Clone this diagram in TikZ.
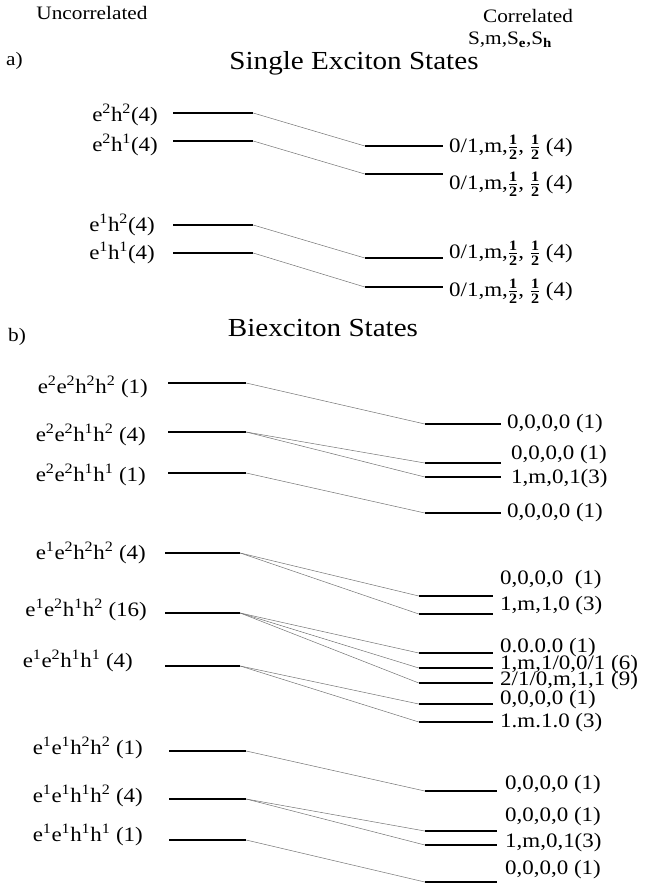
\documentclass[tikz,border=0pt]{standalone}
\usepackage{amsmath}
\usepackage{fontspec}
\setmainfont[FakeStretch=1.12]{Liberation Serif}
\newcommand{\sps}[1]{\textsuperscript{#1}}
\newcommand{\hlf}{$\frac{\text{\bfseries 1}}{\text{\bfseries 2}}$}

\begin{document}
\begin{tikzpicture}[x=1pt,y=-1pt,
    lvl/.style={fill=black,inner sep=0pt,minimum height=1.5pt},
    lnk/.style={draw=black!55,line width=0.5pt},
    lab/.style={font=\fontsize{20.5}{21}\selectfont,inner sep=0pt},
    head/.style={font=\fontsize{19}{19}\selectfont,inner sep=0pt},
    ttl/.style={font=\fontsize{26}{26}\selectfont,inner sep=0pt}]
    \useasboundingbox (0,0) rectangle (650,888);

    \node[head] (unc) at (92,13) {Uncorrelated};
    \node[head] (cor) at (528,16) {Correlated};
    \node[head] (qn) at (510,40) {S,m,S\textsubscript{\textbf{e}},S\textsubscript{\textbf{h}}};
    \node[head,anchor=west] (pa) at (6,61) {a)};
    \node[ttl] (tsx) at (354,63) {Single Exciton States};
    \node[head,anchor=west] (pb) at (8,337) {b)};
    \node[ttl] (tbx) at (323,328) {Biexciton States};

    \node[lvl,minimum width=80pt] (ua1) at (213,113) {};
    \node[lvl,minimum width=80pt] (ua2) at (213,141) {};
    \node[lvl,minimum width=80pt] (ua3) at (213,225) {};
    \node[lvl,minimum width=80pt] (ua4) at (213,253) {};
    \node[lvl,minimum width=78pt] (ca1) at (404,146) {};
    \node[lvl,minimum width=78pt] (ca2) at (404,174) {};
    \node[lvl,minimum width=78pt] (ca3) at (404,258) {};
    \node[lvl,minimum width=78pt] (ca4) at (404,287) {};

    \node[lab,anchor=east] (la1) at (158,115) {e\sps{2}h\sps{2}(4)};
    \node[lab,anchor=east] (la2) at (158,145) {e\sps{2}h\sps{1}(4)};
    \node[lab,anchor=east] (la3) at (155,225) {e\sps{1}h\sps{2}(4)};
    \node[lab,anchor=east] (la4) at (155,253) {e\sps{1}h\sps{1}(4)};
    \node[lab,anchor=west] (ra1) at (449,147) {0/1,m,\hlf, \hlf{} (4)};
    \node[lab,anchor=west] (ra2) at (449,184) {0/1,m,\hlf, \hlf{} (4)};
    \node[lab,anchor=west] (ra3) at (449,253) {0/1,m,\hlf, \hlf{} (4)};
    \node[lab,anchor=west] (ra4) at (449,291) {0/1,m,\hlf, \hlf{} (4)};

    \node[lvl,minimum width=78pt] (ub1) at (207,383) {};
    \node[lvl,minimum width=78pt] (ub2) at (207,432) {};
    \node[lvl,minimum width=78pt] (ub3) at (207,473) {};
    \node[lvl,minimum width=75pt] (ub4) at (202.5,553) {};
    \node[lvl,minimum width=75pt] (ub5) at (202.5,613) {};
    \node[lvl,minimum width=75pt] (ub6) at (202.5,666) {};
    \node[lvl,minimum width=77pt] (ub7) at (207.5,751) {};
    \node[lvl,minimum width=77pt] (ub8) at (207.5,799) {};
    \node[lvl,minimum width=77pt] (ub9) at (207.5,840) {};

    \node[lvl,minimum width=76pt] (cb1) at (463,424) {};
    \node[lvl,minimum width=76pt] (cb2) at (463,463) {};
    \node[lvl,minimum width=76pt] (cb3) at (463,477) {};
    \node[lvl,minimum width=76pt] (cb4) at (463,513) {};
    \node[lvl,minimum width=74pt] (cb5) at (456,596) {};
    \node[lvl,minimum width=74pt] (cb6) at (456,614) {};
    \node[lvl,minimum width=74pt] (cb7) at (456,653) {};
    \node[lvl,minimum width=74pt] (cb8) at (456,668) {};
    \node[lvl,minimum width=74pt] (cb9) at (456,683) {};
    \node[lvl,minimum width=74pt] (cb10) at (456,704) {};
    \node[lvl,minimum width=74pt] (cb11) at (456,722) {};
    \node[lvl,minimum width=72pt] (cb12) at (461,791) {};
    \node[lvl,minimum width=72pt] (cb13) at (461,831) {};
    \node[lvl,minimum width=72pt] (cb14) at (461,845) {};
    \node[lvl,minimum width=72pt] (cb15) at (461,882) {};

    \node[lab,anchor=east] (lb1) at (148,387) {e\sps{2}e\sps{2}h\sps{2}h\sps{2} (1)};
    \node[lab,anchor=east] (lb2) at (146,435) {e\sps{2}e\sps{2}h\sps{1}h\sps{2} (4)};
    \node[lab,anchor=east] (lb3) at (146,475) {e\sps{2}e\sps{2}h\sps{1}h\sps{1} (1)};
    \node[lab,anchor=east] (lb4) at (146,553) {e\sps{1}e\sps{2}h\sps{2}h\sps{2} (4)};
    \node[lab,anchor=east] (lb5) at (147,610) {e\sps{1}e\sps{2}h\sps{1}h\sps{2} (16)};
    \node[lab,anchor=east] (lb6) at (133,661) {e\sps{1}e\sps{2}h\sps{1}h\sps{1} (4)};
    \node[lab,anchor=east] (lb7) at (143,748) {e\sps{1}e\sps{1}h\sps{2}h\sps{2} (1)};
    \node[lab,anchor=east] (lb8) at (143,796) {e\sps{1}e\sps{1}h\sps{1}h\sps{2} (4)};
    \node[lab,anchor=east] (lb9) at (143,835) {e\sps{1}e\sps{1}h\sps{1}h\sps{1} (1)};

    \node[lab,anchor=west] (rb1) at (507,424) {0,0,0,0 (1)};
    \node[lab,anchor=west] (rb2) at (511,455) {0,0,0,0 (1)};
    \node[lab,anchor=west] (rb3) at (511,479) {1,m,0,1(3)};
    \node[lab,anchor=west] (rb4) at (507,513) {0,0,0,0 (1)};
    \node[lab,anchor=west] (rb5) at (500,580) {0,0,0,0\ \ (1)};
    \node[lab,anchor=west] (rb6) at (500,606) {1,m,1,0 (3)};
    \node[lab,anchor=west] (rb7) at (500,648) {0.0.0.0 (1)};
    \node[lab,anchor=west] (rb8) at (500,665) {1,m,1/0,0/1 (6)};
    \node[lab,anchor=west] (rb9) at (500,681) {2/1/0,m,1,1 (9)};
    \node[lab,anchor=west] (rb10) at (500,700) {0,0,0,0 (1)};
    \node[lab,anchor=west] (rb11) at (500,723) {1.m.1.0 (3)};
    \node[lab,anchor=west] (rb12) at (505,785) {0,0,0,0 (1)};
    \node[lab,anchor=west] (rb13) at (505,817) {0,0,0,0 (1)};
    \node[lab,anchor=west] (rb14) at (505,843) {1,m,0,1(3)};
    \node[lab,anchor=west] (rb15) at (505,870) {0,0,0,0 (1)};

    \foreach \u/\c in {ua1/ca1,ua2/ca2,ua3/ca3,ua4/ca4,ub1/cb1,ub2/cb2,ub2/cb3,ub3/cb4,
        ub4/cb5,ub4/cb6,ub5/cb7,ub5/cb8,ub5/cb9,ub6/cb10,ub6/cb11,
        ub7/cb12,ub8/cb13,ub8/cb14,ub9/cb15}
        \draw[lnk] (\u.east) -- (\c.west);
\end{tikzpicture}
\end{document}
